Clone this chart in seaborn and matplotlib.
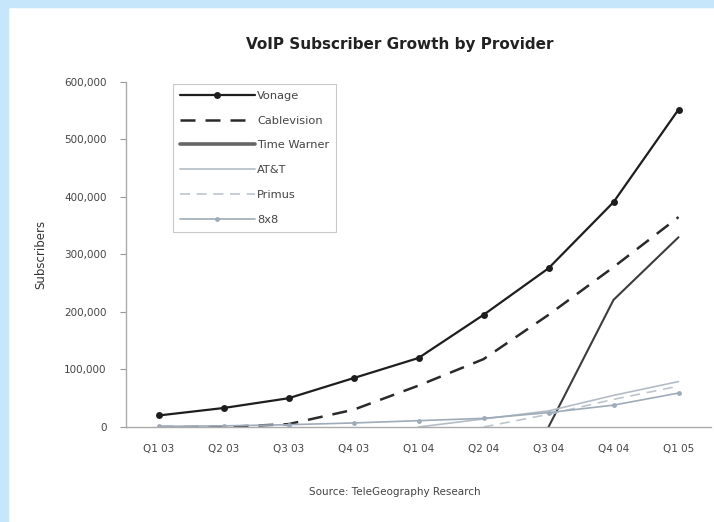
import numpy as np
import pandas as pd
import matplotlib
matplotlib.use("Agg")
import matplotlib.pyplot as plt
import seaborn as sns
from matplotlib.patches import Rectangle
from matplotlib.ticker import FuncFormatter, FixedLocator

quarters = ["Q1 03", "Q2 03", "Q3 03", "Q4 03", "Q1 04", "Q2 04", "Q3 04", "Q4 04", "Q1 05"]
vonage = [20000, 33000, 50000, 85000, 120000, 195000, 276000, 391000, 552000]
cablevision = [0, 0, 5000, 30000, 72000, 118000, 195000, 278000, 365000]
time_warner = [None, None, None, None, None, None, 0, 221000, 330000]
att = [None, None, None, None, 0, 14000, 28000, 55000, 79000]
primus = [None, None, None, None, None, 0, 22000, 48000, 71000]
eight_x_eight = [1000, 2000, 4000, 7000, 11000, 15000, 25000, 38000, 59000]

providers = ["Vonage", "Cablevision", "Time Warner", "AT&T", "Primus", "8x8"]
series = [vonage, cablevision, time_warner, att, primus, eight_x_eight]

styles = {
    "Vonage": dict(color="#1e1e1e", lw=1.6, ls="-", marker="o", ms=5),
    "Cablevision": dict(color="#2a2a2a", lw=1.8, ls=(0, (6, 4)), marker=None, ms=0),
    "Time Warner": dict(color="#3c3c3c", lw=1.5, ls="-", marker=None, ms=0),
    "AT&T": dict(color="#b3bcc6", lw=1.2, ls="-", marker=None, ms=0),
    "Primus": dict(color="#bcc5ce", lw=1.2, ls=(0, (6, 4)), marker=None, ms=0),
    "8x8": dict(color="#9eabb9", lw=1.2, ls="-", marker="o", ms=3.5),
}

sns.set_style("white")
narrow = ["Liberation Sans Narrow", "DejaVu Sans"]
plt.rcParams["font.family"] = narrow

fig = plt.figure(figsize=(7.14, 5.22), dpi=100)
# light blue border on top and left
fig.patches.append(Rectangle((0, 0.987), 1, 0.013, transform=fig.transFigure,
                             color="#c6e6fb", zorder=0))
fig.patches.append(Rectangle((0, 0), 0.0112, 1, transform=fig.transFigure,
                             color="#c6e6fb", zorder=0))

ax = fig.add_axes([0.1765, 0.182, 0.8193, 0.661])
x = np.arange(len(quarters))
for name, vals in zip(providers, series):
    df = pd.DataFrame({"x": x, "y": vals}).dropna()
    st = styles[name]
    sns.lineplot(data=df, x="x", y="y", ax=ax, label=name, color=st["color"],
                 linewidth=st["lw"], linestyle=st["ls"], marker=st["marker"],
                 markersize=st["ms"], markeredgewidth=0)

ax.set_xlim(-0.5, 8.5)
ax.set_ylim(0, 600000)
ax.set_xticks(x)
ax.set_xticklabels(quarters)
ax.xaxis.set_minor_locator(FixedLocator(np.arange(0.5, 8.6, 1)))
ax.tick_params(axis="x", which="major", length=0, pad=12, labelsize=7.5, labelcolor="#444444")
ax.tick_params(axis="x", which="minor", length=4, direction="in", color="#999999", width=0.8)
ax.set_yticks(np.arange(0, 600001, 100000))
ax.yaxis.set_major_formatter(FuncFormatter(lambda v, p: f"{int(v):,}"))
ax.tick_params(axis="y", length=4, direction="out", color="#999999", width=0.8,
               labelsize=7.5, labelcolor="#444444", pad=10, left=True)
ax.set_xlabel("")
ax.set_ylabel("Subscribers", fontsize=8.5, color="#333333", labelpad=12)
for s in ["top", "right"]:
    ax.spines[s].set_visible(False)
for s in ["left", "bottom"]:
    ax.spines[s].set_color("#aaaaaa")
    ax.spines[s].set_linewidth(1.0)

leg = ax.legend(loc="upper left", bbox_to_anchor=(0.08, 0.994), borderaxespad=0,
                fontsize=8.2, handlelength=6.6, labelspacing=1.3, handletextpad=0.2,
                frameon=True, fancybox=False, borderpad=0.6, labelcolor="#444444")
leg.get_frame().set_edgecolor("#bbbbbb")
leg.get_frame().set_linewidth(0.8)
# the Time Warner key is drawn as a thicker grey bar in the original
leg.get_lines()[2].set_linewidth(2.6)
leg.get_lines()[2].set_color("#666666")

fig.text(0.56, 0.915, "VoIP Subscriber Growth by Provider", ha="center", va="center",
         fontsize=11, fontweight="bold", color="#222222")
fig.text(0.553, 0.057, "Source: TeleGeography Research", ha="center", va="center",
         fontsize=7.5, color="#444444")

fig.savefig("out.png", dpi=100)
